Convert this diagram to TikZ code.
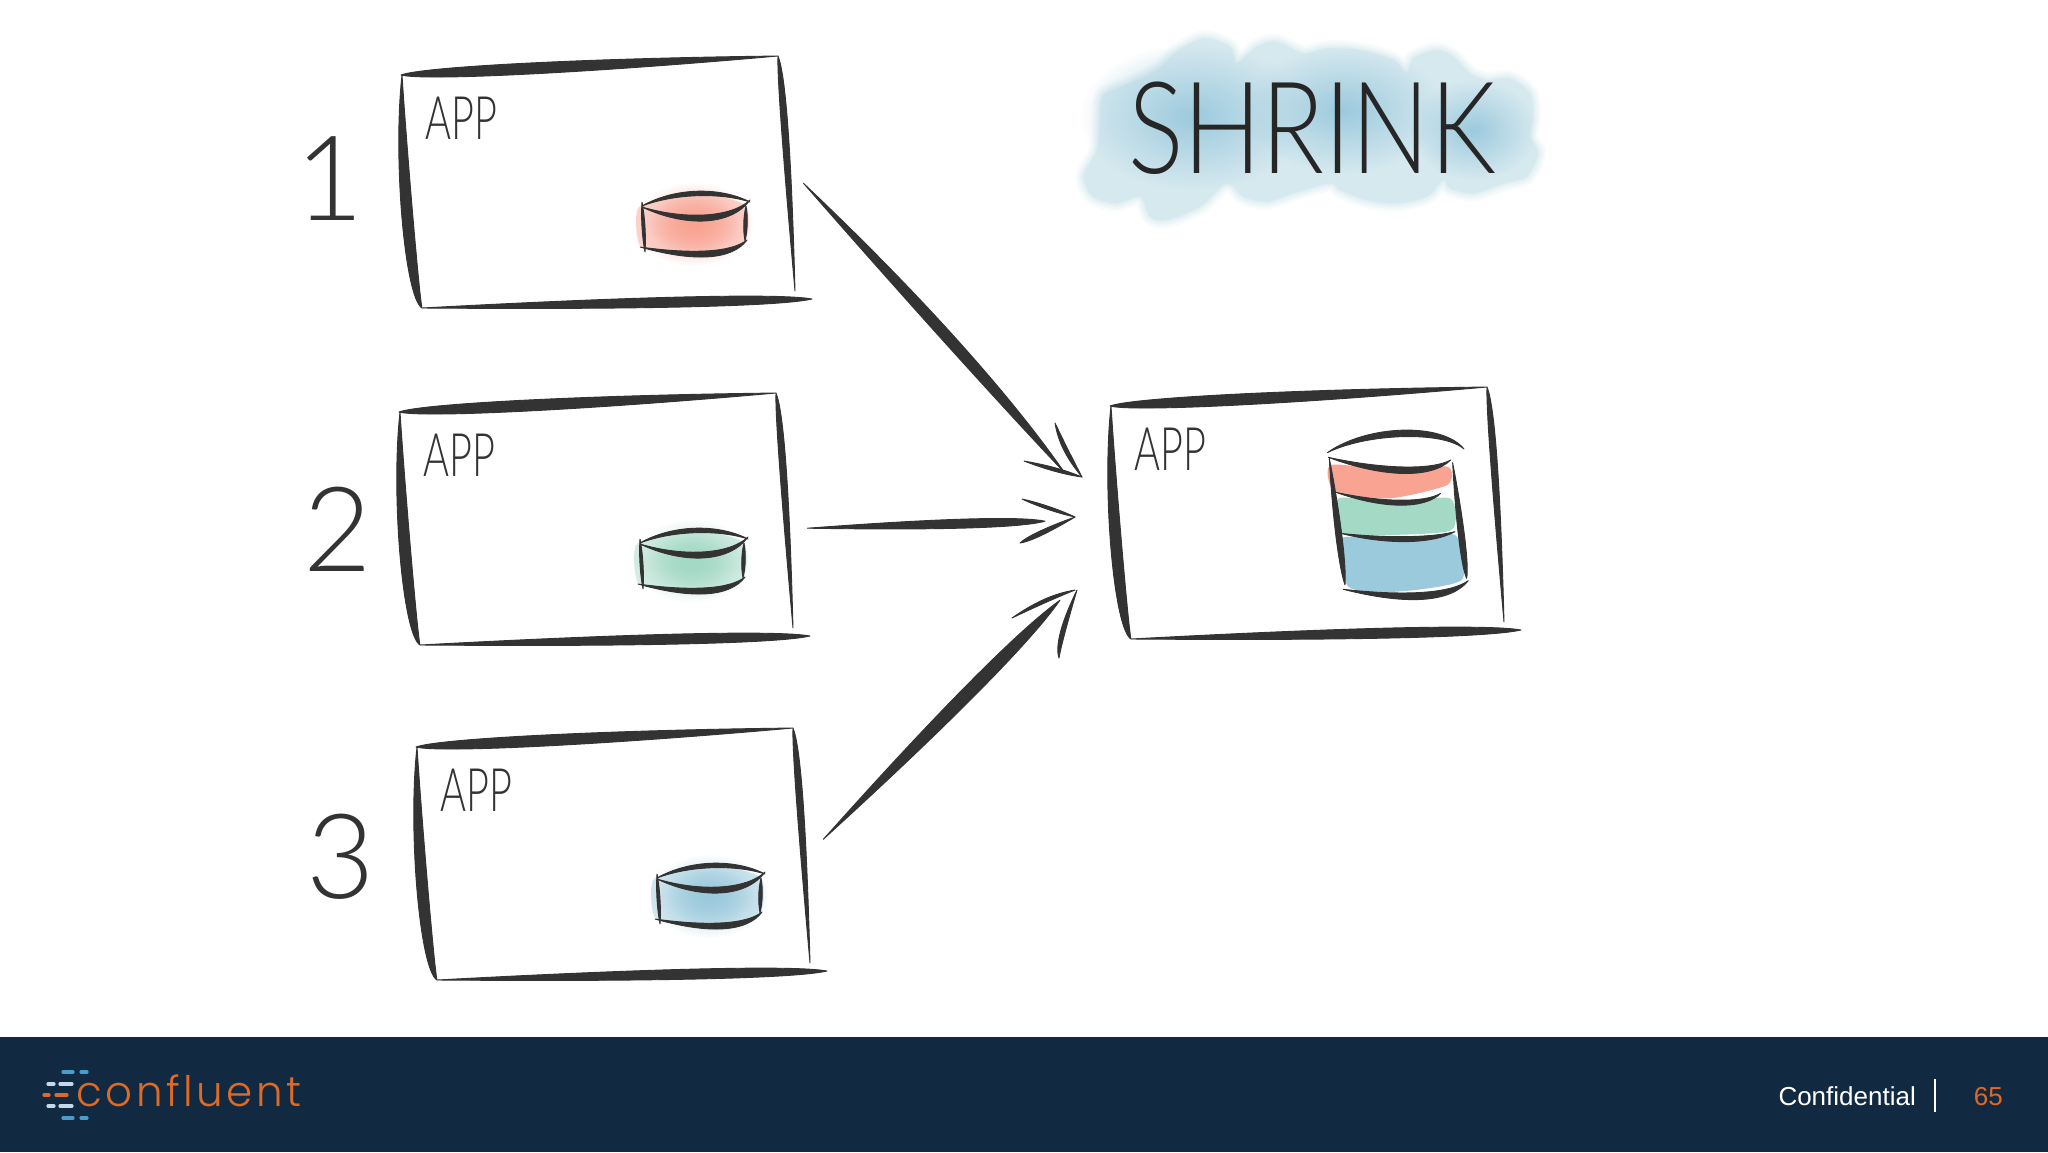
\documentclass[tikz,border=0pt]{standalone}
\usepackage{fontspec}
\usetikzlibrary{calc,fadings}
\setmainfont{Liberation Sans}
\newfontfamily\handfont[UprightFont=* Light]{Lato}
\newfontfamily\logofont[UprightFont=* Light,LetterSpace=8.5]{Poppins}
\definecolor{skink}{HTML}{333333}
\definecolor{skfoot}{HTML}{122A41}
\definecolor{skorange}{HTML}{DE6A28}
\definecolor{skdash}{HTML}{C3D8EA}
\definecolor{skdashb}{HTML}{4A9CC9}
\definecolor{washred}{HTML}{F9A493}
\definecolor{washgreen}{HTML}{A3D9C5}
\definecolor{washblue}{HTML}{9CCADD}
\definecolor{washsky}{HTML}{D6E9EF}
\tikzfading[name=softwash,inner color=transparent!0,outer color=transparent!100]
\tikzset{
  ink/.style={fill=skink,draw=skink,line width=.9pt,line join=round},
  appbox/.style={anchor=north west,inner sep=0pt,minimum width=376pt,minimum height=232pt},
  applabel/.style={font=\handfont\fontsize{60}{60}\selectfont,text=skink,inner sep=0pt,transform shape,xscale=.66},
  numlabel/.style={font=\handfont\fontsize{118}{118}\selectfont,text=skink,inner sep=0pt},
  logodash/.style={line cap=round,line width=3.2pt},
}
% tapered pen stroke: from, to, width, bend, where the belly starts and stops
\newcommand{\brush}[6]{
  \path[ink] (#1) .. controls ($(#1)!#5!(#2)!{(#4+#3*.6667)*1pt}!90:(#2)$)
    and ($(#1)!#6!(#2)!{(#4+#3*.6667)*1pt}!90:(#2)$) .. (#2)
    .. controls ($(#1)!#6!(#2)!{(#4-#3*.6667)*1pt}!90:(#2)$)
    and ($(#1)!#5!(#2)!{(#4-#3*.6667)*1pt}!90:(#2)$) .. (#1) -- cycle;
}
\newcommand{\cloudpts}{(70,470) (110,390) (120,300) (130,225) (210,190) (290,150) (350,95) (430,55) (510,80) (530,130) (590,80) (650,65) (730,100) (800,85) (900,90) (1000,120) (1040,160) (1060,115) (1130,90) (1180,110) (1230,160) (1280,180) (1350,175) (1410,220) (1420,290) (1410,350) (1435,400) (1400,470) (1330,490) (1240,520) (1170,505) (1150,480) (1100,530) (1010,550) (920,540) (840,510) (810,490) (700,520) (620,545) (550,530) (500,490) (420,560) (320,600) (270,590) (240,530) (170,550) (100,530)}
\begin{document}
\begin{tikzpicture}[x=1pt,y=-1pt]
  \useasboundingbox (0,0) rectangle (2048,1152);
  \fill[white] (0,0) rectangle (2048,1152);
  % title wash
  \begin{scope}[shift={(1060,20)},x=.3333pt,y=-.3333pt]
    \foreach \lw/\op in {16/.18,11/.22,7/.28,3/.35}{
      \draw[washsky,opacity=\op,line width=\lw pt,line join=round] plot[smooth cycle,tension=.5] coordinates {\cloudpts};
    }
    \fill[washsky] plot[smooth cycle,tension=.5] coordinates {\cloudpts};
    \fill[washblue,path fading=softwash] (400,290) ellipse (340 and 220);
    \fill[washblue,path fading=softwash] (850,270) ellipse (300 and 190);
    \fill[washblue,path fading=softwash] (1240,330) ellipse (190 and 150);
  \end{scope}
  \node[font=\handfont\fontsize{128}{128}\selectfont,text=black!85,inner sep=0pt,transform shape,xscale=.81] (title) at (1312,128) {SHRINK};
  % frames
  \foreach \nm/\px/\py/\numx/\numy in {1/402/76/330/179,2/400/413/338/529,3/417/748/341/857,4/1111/407/0/0}{
    \node[appbox] (app\nm) at (\px,\py) {};
    \begin{scope}[shift={(\px,\py)}]
      \brush{-1,-1}{376,-20}{11}{0}{.06}{.5}
      \brush{376,-20}{393,215}{6.5}{2}{.08}{.42}
      \brush{0,-1}{20,232}{11}{-9}{.35}{.95}
      \brush{20,232}{410,223}{10}{0}{.55}{.92}
      \node[applabel] (lbl\nm) at (59,42) {APP};
    \end{scope}
    \ifnum\nm<4
      \node[numlabel] (num\nm) at (\numx,\numy) {\nm};
    \fi
  }
  % small stores
  \foreach \nm/\px/\py/\wash in {1/402/76/washred,2/400/413/washgreen,3/417/748/washblue}{
    \begin{scope}[shift={(\px,\py)}]
      \fill[\wash,opacity=.45] plot[smooth cycle,tension=.4] coordinates {(236,132) (270,120) (305,118) (344,130) (343,165) (305,176) (270,174) (238,170)};
      \fill[\wash,path fading=softwash] (292,148) ellipse (60 and 42);
      \fill[\wash,path fading=softwash] (292,148) ellipse (44 and 30);
      \brush{240,130}{348,126}{4.5}{14}{.3}{.72}
      \brush{240,131}{348,124}{6}{-20}{.4}{.82}
      \brush{240,126}{243,176}{3}{0}{.3}{.7}
      \brush{344,130}{343,165}{3.5}{0}{.3}{.7}
      \brush{238,171}{345,164}{6}{-15}{.5}{.85}
    \end{scope}
  }
  % merged store
  \begin{scope}[shift={(1090,370)},x=.3333pt,y=-.3333pt]
    \fill[washred] plot[smooth cycle,tension=.4] coordinates {(722,285) (900,300) (1072,290) (1072,345) (900,385) (735,365)};
    \fill[washgreen] plot[smooth cycle,tension=.4] coordinates {(745,385) (900,400) (1080,385) (1085,480) (900,495) (755,490)};
    \fill[washblue] plot[smooth cycle,tension=.4] coordinates {(755,505) (920,515) (1095,495) (1115,630) (920,665) (775,650)};
    \brush{712,248}{1122,237}{6.5}{23}{.3}{.85}
    \brush{715,262}{1082,270}{6.5}{-15}{.45}{.85}
    \brush{718,265}{765,645}{6}{0}{.45}{.85}
    \brush{1088,278}{1130,625}{6}{0}{.5}{.9}
    \brush{738,367}{1052,370}{5}{-13}{.45}{.85}
    \brush{752,490}{1095,485}{5}{-9}{.4}{.8}
    \brush{760,658}{1135,632}{7}{-16}{.5}{.85}
  \end{scope}
  % arrows into the merged app
  \coordinate (from1) at ($(app1.east)+(25,-9)$);
  \coordinate (from2) at ($(app2.east)+(31,-1)$);
  \coordinate (from3) at ($(app3.east)+(30,-25)$);
  \coordinate (to1) at ($(app4.west)+(-46,-50)$);
  \coordinate (to2) at ($(app4.west)+(-66,-2)$);
  \coordinate (to3) at ($(app4.west)+(-51,77)$);
  \brush{from1}{to1}{11}{5}{.4}{.75}
  \brush{from2}{to2}{9}{0}{.55}{.9}
  \brush{from3}{to3}{13}{0}{.5}{.85}
  \brush{1055,423}{1082,477}{4}{-3}{.3}{.6}
  \brush{1024,461}{1082,477}{3.5}{0}{.4}{.7}
  \brush{1022,499}{1075,517}{3}{0}{.3}{.7}
  \brush{1075,517}{1020,543}{4.5}{0}{.5}{.85}
  \brush{1012,618}{1075,590}{3.5}{3}{.4}{.7}
  \brush{1077,590}{1059,658}{4.5}{-4}{.5}{.85}
  % footer
  \fill[skfoot] (0,1037) rectangle (2048,1152);
  \foreach \ya/\xa/\xb/\xc/\xd/\col in {1072/63/73/81/87/skdashb,1084/48/54/60/72/skdash,1095/44/49/56/67/skorange,1106/48/54/60/72/skdash,1118/63/73/81/87/skdashb}{
    \draw[logodash,\col] (\xa,\ya) -- (\xb,\ya);
    \draw[logodash,\col] (\xc,\ya) -- (\xd,\ya);
  }
  \node[font=\logofont\fontsize{42}{42}\selectfont,text=skorange,inner sep=0pt,anchor=base west] (logo) at (76,1106) {conf{}luent};
  \node[font=\fontsize{26}{26}\selectfont,text=white,inner sep=0pt,anchor=base east] (conf) at (1916,1105) {Confidential};
  \draw[white,line width=1.4pt] (1935,1079) -- (1935,1112);
  \node[font=\fontsize{26}{26}\selectfont,text=skorange,inner sep=0pt,anchor=base east] (page) at (2003,1105) {65};
\end{tikzpicture}
\end{document}
